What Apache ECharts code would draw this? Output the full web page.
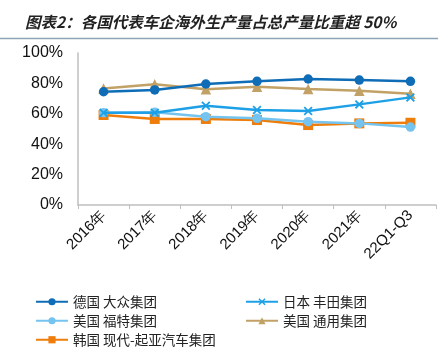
<!DOCTYPE html>
<html><head><meta charset="utf-8">
<script src="https://cdn.jsdelivr.net/npm/echarts@6/dist/echarts.min.js"></script>
<style>html,body{margin:0;padding:0;background:#fff}#c{width:446px;height:351px}</style>
</head><body><div id="c"></div>
<script>
const categories = ['2016年','2017年','2018年','2019年','2020年','2021年','22Q1-Q3'];
const vw = [74.5, 75.7, 79.6, 81.4, 82.9, 82.2, 81.4];
const toyota = [60.7, 60.7, 65.3, 62.5, 61.8, 66.2, 70.8];
const ford = [60.7, 61.0, 58.1, 57.0, 54.8, 53.7, 51.3];
const gm = [76.7, 79.4, 76.1, 77.8, 76.3, 75.2, 73.2];
const hyundai = [59.2, 56.6, 56.6, 55.9, 52.6, 53.7, 54.1];
const names = ['德国 大众集团','日本 丰田集团','美国 福特集团','美国 通用集团','韩国 现代-起亚汽车集团'];
const yTicks = [0,20,40,60,80,100];

const xPath = 'path://M0,1.4L1.4,0L5,3.6L8.6,0L10,1.4L6.4,5L10,8.6L8.6,10L5,6.4L1.4,10L0,8.6L3.6,5Z';
const colors = ['#0f6cb6','#1ea0e6','#74c4ef','#c2a166','#ee7d0b'];
const symbols = ['circle', xPath, 'circle', 'triangle', 'rect'];
const sizes = [9.5, 9, 9.5, 10.5, 10];
const datas = [vw, toyota, ford, gm, hyundai];
const legendPos = [[30,290],[240,290],[30,309],[240,309],[30,328]];

const chart = echarts.init(document.getElementById('c'));
chart.setOption({
  animation:false,
  title:{text:'图表2：各国代表车企海外生产量占总产量比重超 50%', left:20, top:9,
    textStyle:{fontFamily:'Noto Sans CJK SC', fontSize:15.5, fontWeight:'bold', fontStyle:'italic', color:'#222'}},
  graphic:[{type:'line', shape:{x1:0,y1:38.5,x2:438,y2:38.5}, style:{stroke:'#8ea3b6', lineWidth:1.5}}],
  legend: names.map((n,i)=>({data:[n], left:legendPos[i][0], top:legendPos[i][1], itemWidth:32, itemHeight:9, itemGap:4,
    textStyle:{fontFamily:'Noto Sans CJK SC', fontSize:13.5, color:'#222'}})),
  grid:{left:78, right:10, top:53, bottom:146, containLabel:false},
  xAxis:{type:'category', data:categories, boundaryGap:true,
    axisLine:{lineStyle:{color:'#bfbfbf', width:1.5}},
    axisTick:{show:true, length:4, lineStyle:{color:'#bfbfbf'}},
    axisLabel:{rotate:45, fontFamily:'Liberation Sans', fontSize:15, color:'#111', margin:8, interval:0}},
  yAxis:{type:'value', min:0, max:100, interval:20,
    axisLine:{show:true, lineStyle:{color:'#bfbfbf', width:1.5}},
    axisTick:{show:false}, splitLine:{show:false},
    axisLabel:{formatter:v=>v+'%', fontFamily:'Liberation Sans', fontSize:16, color:'#111', margin:15}},
  series: names.map((n,i)=>({name:n, type:'line', data:datas[i], symbol:symbols[i], symbolSize:sizes[i],
    showAllSymbol:true, lineStyle:{color:colors[i], width:2.5}, itemStyle:{color:colors[i]}, z: 10-i}))
});
</script></body></html>
